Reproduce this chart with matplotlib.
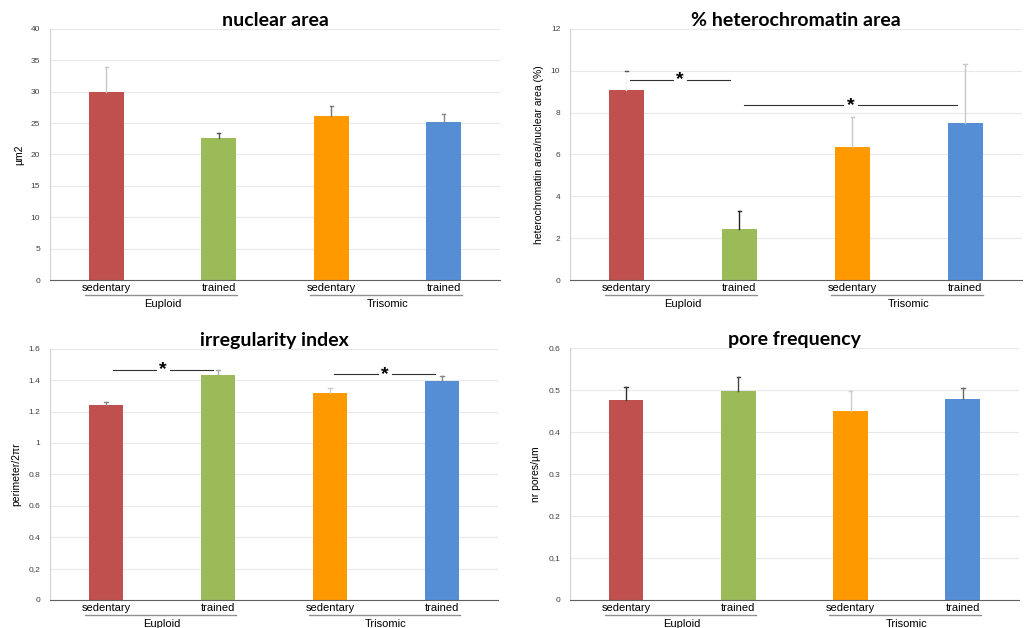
import matplotlib
matplotlib.use('Agg')
import matplotlib.pyplot as plt
import matplotlib.transforms as mtransforms

# data
conditions = ['sedentary', 'trained', 'sedentary', 'trained']
groups = ['Euploid', 'Trisomic']
bar_colors = ['#c0504d', '#9bbb59', '#ff9900', '#558ed5']

nuclear_area = [29.9, 22.6, 26.1, 25.1]
nuclear_area_top = [34.0, 23.4, 27.8, 26.4]

hetero_area = [9.1, 2.45, 6.37, 7.5]
hetero_area_top = [10.0, 3.32, 7.79, 10.32]

irregularity = [1.245, 1.43, 1.32, 1.394]
irregularity_top = [1.26, 1.466, 1.35, 1.424]

pore_freq = [0.476, 0.498, 0.451, 0.48]
pore_freq_top = [0.507, 0.532, 0.498, 0.505]

# significance brackets: (x start, x end, y)
hetero_sig = [(0.03, 0.92, 9.56), (1.04, 2.93, 8.36)]
irregularity_sig = [(0.06, 0.96, 1.466), (2.04, 2.94, 1.437)]


def draw_panel(ax, title, values, tops, ylabel, ymax, yticks, yticklabels,
               err_colors, sig=None):
    x = range(len(values))
    ax.bar(x, values, width=0.31, color=bar_colors, zorder=2)
    for xi, v, t, c in zip(x, values, tops, err_colors):
        ax.plot([xi, xi], [v, t], color=c, lw=1.0, zorder=3)
        ax.plot([xi - 0.015, xi + 0.015], [t, t], color=c, lw=1.0, zorder=3)

    ax.set_xlim(-0.5, 3.5)
    ax.set_ylim(0, ymax)
    ax.set_yticks(yticks)
    ax.set_yticklabels(yticklabels, fontsize=6, color='#404040')
    ax.tick_params(axis='y', length=0, pad=7)
    ax.set_xticks([])
    ax.grid(axis='y', color='#e8e8e8', lw=0.8, zorder=0)
    ax.set_axisbelow(True)
    for s in ['top', 'right']:
        ax.spines[s].set_visible(False)
    ax.spines['left'].set_color('#d0d0d0')
    ax.spines['bottom'].set_color('#606060')
    ax.set_ylabel(ylabel, fontsize=7.5, labelpad=5)
    ax.set_title(title, fontsize=14, fontweight='bold', family='Lato', pad=2)

    trans = mtransforms.blended_transform_factory(ax.transData, ax.transAxes)
    for xi, name in zip(x, conditions):
        ax.text(xi, -0.03, name, transform=trans, ha='center', va='center',
                fontsize=8)
    for gi, g in enumerate(groups):
        x0 = gi * 2
        ax.plot([x0 - 0.19, x0 + 1.16], [-0.06, -0.06], transform=trans,
                color='#909090', lw=1.0, clip_on=False)
        ax.text(x0 + 0.5, -0.095, g, transform=trans, ha='center',
                va='center', fontsize=8)

    if sig:
        for x0, x1, y in sig:
            xm = (x0 + x1) / 2
            gap = 0.065
            ax.plot([x0, xm - gap], [y, y], color='#303030', lw=0.8, zorder=4)
            ax.plot([xm + gap, x1], [y, y], color='#303030', lw=0.8, zorder=4)
            ax.text(xm, y, '*', ha='center', va='center', fontsize=14,
                    fontweight='bold', zorder=5)


fig = plt.figure(figsize=(10.24, 6.28), dpi=100)
plt.rcParams['font.family'] = ['Liberation Sans', 'DejaVu Sans']

ax1 = fig.add_axes([0.0488, 0.554, 0.4395, 0.400])
ax2 = fig.add_axes([0.5566, 0.554, 0.4410, 0.400])
ax3 = fig.add_axes([0.0488, 0.0446, 0.4375, 0.400])
ax4 = fig.add_axes([0.5566, 0.0446, 0.4385, 0.401])

draw_panel(ax1, 'nuclear area', nuclear_area, nuclear_area_top,
           '\u00b5m2', 40, range(0, 41, 5), [str(v) for v in range(0, 41, 5)],
           ['#c8c8c8', '#555555', '#777777', '#888888'])

draw_panel(ax2, '% heterochromatin area', hetero_area, hetero_area_top,
           'heterochromatin area/nuclear area (%)', 12, range(0, 13, 2),
           [str(v) for v in range(0, 13, 2)],
           ['#f4f4f4', '#222222', '#c8c8c8', '#c8c8c8'], sig=hetero_sig)
# tiny cap mark on the first bar
ax2.plot([-0.01, 0.01], [hetero_area_top[0], hetero_area_top[0]],
         color='#555555', lw=1.0, zorder=4)

draw_panel(ax3, 'irregularity index', irregularity, irregularity_top,
           'perimeter/2\u03c0r', 1.6, [0, 0.2, 0.4, 0.6, 0.8, 1, 1.2, 1.4, 1.6],
           ['0', '0,2', '0.4', '0.6', '0.8', '1', '1.2', '1.4', '1.6'],
           ['#888888', '#aaaaaa', '#cccccc', '#888888'], sig=irregularity_sig)

draw_panel(ax4, 'pore frequency', pore_freq, pore_freq_top,
           'nr pores/\u00b5m', 0.6, [0, 0.1, 0.2, 0.3, 0.4, 0.5, 0.6],
           ['0', '0,1', '0.2', '0.3', '0.4', '0.5', '0.6'],
           ['#333333', '#444444', '#cccccc', '#666666'])

fig.savefig('out.png', dpi=100)
